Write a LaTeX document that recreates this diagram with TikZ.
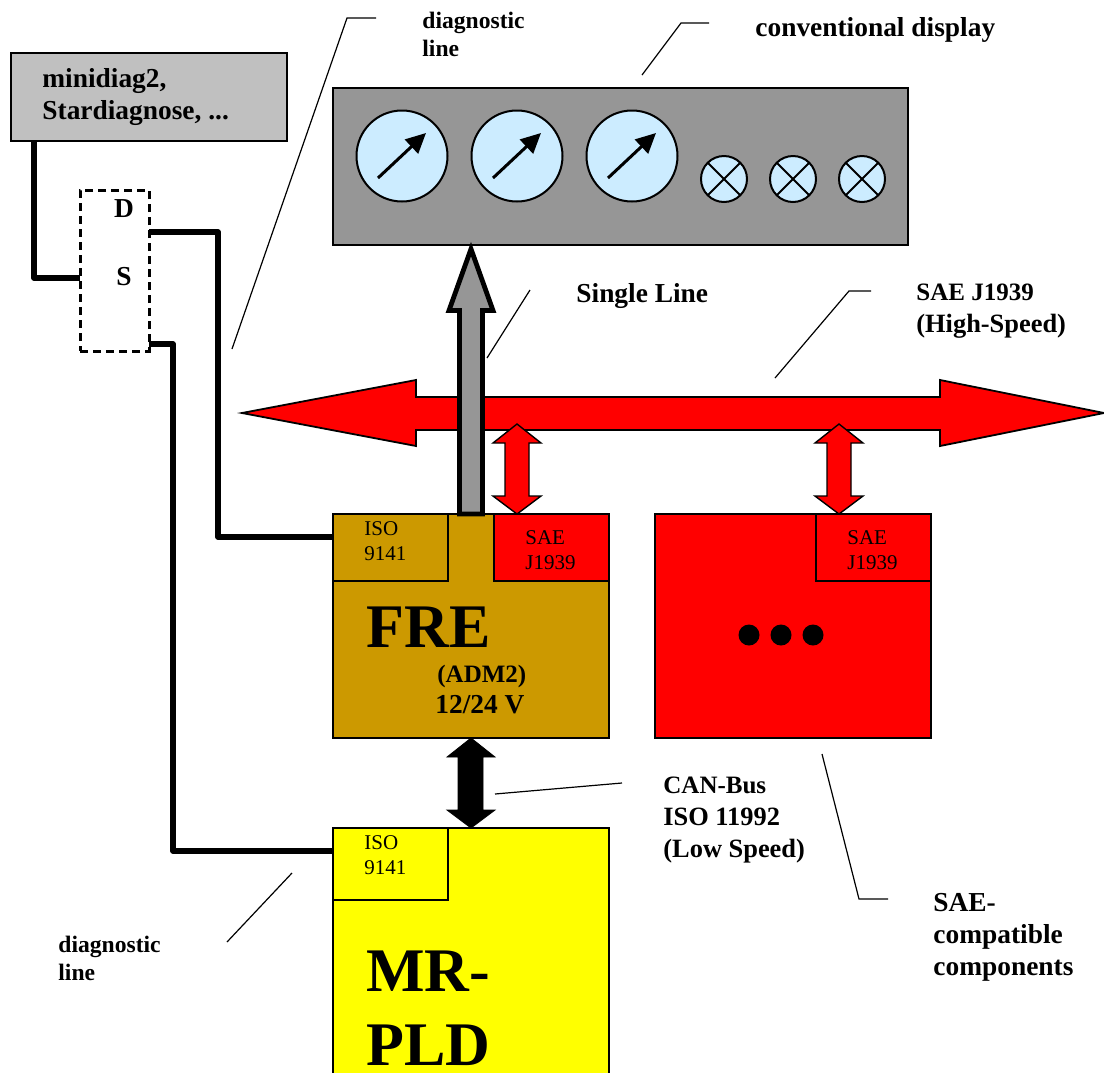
\documentclass[tikz,border=0pt]{standalone}
\usepackage{fontspec}
\setmainfont{Liberation Serif}
\usetikzlibrary{arrows.meta}
\definecolor{panelgray}{HTML}{969696}
\definecolor{toolgray}{HTML}{C0C0C0}
\definecolor{dialblue}{HTML}{CCECFF}
\definecolor{freblock}{HTML}{CC9900}
\definecolor{pldyellow}{HTML}{FFFF00}
\definecolor{busred}{HTML}{FF0000}
\newcommand{\tightfont}{\fontsize{12.5}{16}\selectfont}
\begin{document}
\begin{tikzpicture}[
  x=0.5pt, y=-0.5pt,
  box/.style={draw=black, line width=0.65pt, anchor=north west, inner sep=0pt, outer sep=0pt},
  wire/.style={line width=2.8pt, line join=round, draw=black},
  leader/.style={line width=0.6pt, draw=black},
  gauge/.style={circle, draw=black, line width=1pt, fill=dialblue, minimum size=45.5pt, inner sep=0pt, outer sep=0pt},
  lamp/.style={circle, draw=black, line width=1pt, fill=dialblue, minimum size=23pt, inner sep=0pt, outer sep=0pt},
  needle/.style={line width=1.5pt, -{Triangle[length=10pt, width=9.5pt]}},
  redarrow/.style={draw=black, line width=0.7pt, fill=busred},
  txt/.style={anchor=north west, inner sep=0pt, align=left, font=\bfseries\fontsize{13.7}{16}\selectfont},
  txtc/.style={anchor=north west, inner sep=0pt, align=left, font=\bfseries\fontsize{13.2}{16}\selectfont},
  txts/.style={anchor=north west, inner sep=0pt, align=left, font=\bfseries\fontsize{11.8}{14}\selectfont},
  txtn/.style={anchor=north west, inner sep=0pt, align=left, font=\fontsize{10.5}{12.5}\selectfont},
  txtb/.style={anchor=base west, inner sep=0pt, font=\bfseries\fontsize{31}{37}\selectfont}
]
  \useasboundingbox (0,0) rectangle (1104,1072);

  % Diagnosetester und Schalter
  \node[box, fill=toolgray, minimum width=138pt, minimum height=44pt] (tool) at (11,53) {};
  \node[txt] (tooltxt) at (42,68) {minidiag2,\\Stardiagnose, ...};
  \node[box, dashed, line width=1.5pt, dash pattern=on 4pt off 2.5pt, minimum width=34.5pt, minimum height=80.5pt] (switch) at (80,190) {};
  \node[txt, anchor=center] (swd) at (124,209) {D};
  \node[txt, anchor=center] (sws) at (124,277) {S};

  % Anzeige
  \node[box, fill=panelgray, minimum width=287.5pt, minimum height=78.5pt] (panel) at (333,88) {};
  \foreach \x/\n in {402/a, 517/b, 632/c} {
    \node[gauge] (g\n) at (\x,156) {};
    \draw[needle] (\x-24,178) -- (\x+24,133);
  }
  \foreach \x/\n in {724/a, 793/b, 862/c} {
    \node[lamp] (l\n) at (\x,179) {};
    \draw[line width=0.9pt] (l\n.45) -- (l\n.225);
    \draw[line width=0.9pt] (l\n.135) -- (l\n.315);
  }

  % Steuergeraete
  \node[box, fill=freblock, minimum width=138pt, minimum height=112pt] (fre) at (333,514) {};
  \node[box, fill=freblock, minimum width=57.5pt, minimum height=33.5pt] (freiso) at (333,514) {};
  \node[box, fill=busred, minimum width=57.5pt, minimum height=33.5pt] (fresae) at (494,514) {};
  \node[box, fill=busred, minimum width=138pt, minimum height=112pt] (comp) at (655,514) {};
  \node[box, fill=busred, minimum width=57.5pt, minimum height=33.5pt] (compsae) at (816,514) {};
  \node[box, fill=pldyellow, minimum width=138pt, minimum height=130pt] (pld) at (333,828) {};
  \node[box, fill=pldyellow, minimum width=57.5pt, minimum height=36pt] (pldiso) at (333,828) {};

  \foreach \x/\n in {749/a, 781/b, 813/c}
    \node[circle, fill=black, minimum size=10.5pt, inner sep=0pt] (dot\n) at (\x,635) {};

  % Leitungen
  \coordinate (w0) at (34,141);
  \coordinate (w1) at (80,278);
  \coordinate (w2) at (149,232);
  \coordinate (w3) at (218,232);
  \coordinate (w4) at (333,537);
  \coordinate (w5) at (149,344);
  \coordinate (w6) at (173,344);
  \coordinate (w7) at (333,851);
  \draw[wire] (w0) |- (w1);
  \draw[wire] (w2) -- (w3) |- (w4);
  \draw[wire] (w5) -- (w6) |- (w7);

  % Busse
  \draw[redarrow, line width=0.9pt] (242,413) -- (416,380) -- (416,397) -- (940,397) -- (940,380)
    -- (1104,413) -- (940,446) -- (940,430) -- (416,430) -- (416,446) -- cycle;
  \draw[draw=black, line width=2.4pt, fill=panelgray] (471,249) -- (493,310.5) -- (482.5,310.5) -- (482.5,514)
    -- (459.5,514) -- (459.5,310.5) -- (449,310.5) -- cycle;
  \foreach \x in {517,839}
    \draw[redarrow] (\x,424) -- (\x+24,443) -- (\x+12,443) -- (\x+12,496) -- (\x+24,496) -- (\x,514)
      -- (\x-24,496) -- (\x-12,496) -- (\x-12,443) -- (\x-24,443) -- cycle;
  \draw[draw=black, line width=0.4pt, fill=black] (471,738) -- (495,757) -- (483,757) -- (483,810)
    -- (495,810) -- (471,828) -- (447,810) -- (458,810) -- (458,757) -- (447,757) -- cycle;

  % Hinweislinien
  \coordinate (la0) at (232,349);
  \coordinate (la1) at (347,18);
  \coordinate (la2) at (376,18);
  \draw[leader] (la0) -- (la1) -- (la2);
  \coordinate (lb0) at (642,75);
  \coordinate (lb1) at (681,23);
  \coordinate (lb2) at (709,23);
  \draw[leader] (lb0) -- (lb1) -- (lb2);
  \coordinate (lc0) at (487,358);
  \coordinate (lc1) at (530,290);
  \draw[leader] (lc0) -- (lc1);
  \coordinate (ld0) at (775,378);
  \coordinate (ld1) at (849,291);
  \coordinate (ld2) at (871,291);
  \draw[leader] (ld0) -- (ld1) -- (ld2);
  \coordinate (le0) at (495,794);
  \coordinate (le1) at (622,783);
  \draw[leader] (le0) -- (le1);
  \coordinate (lf0) at (822,754);
  \coordinate (lf1) at (859,899);
  \coordinate (lf2) at (888,899);
  \draw[leader] (lf0) -- (lf1) -- (lf2);
  \coordinate (lg0) at (227,942);
  \coordinate (lg1) at (292,873);
  \draw[leader] (lg0) -- (lg1);

  % Beschriftungen
  \node[txts] (diagtop) at (422,12) {diagnostic\\line};
  \node[txts] (diagbot) at (58,936) {diagnostic\\line};
  \node[txt] (conv) at (755,17) {conventional display};
  \node[txt] (single) at (576,283) {Single Line};
  \node[txtc] (j1939) at (916,284) {{\tightfont SAE J1939}\\(High-Speed)};
  \node[txtc] (canbus) at (663,777) {{\tightfont CAN-Bus}\\ISO 11992\\(Low Speed)};
  \node[txt] (saecomp) at (933,893) {SAE-\\compatible\\components};
  \node[txtn] (freisotxt) at (364,521) {ISO\\9141};
  \node[txtn] (fresaetxt) at (525,530) {SAE\\J1939};
  \node[txtn] (compsaetxt) at (847,530) {SAE\\J1939};
  \node[txtn] (pldisotxt) at (364,835) {ISO\\9141};
  \node[txtb] (fretxt) at (366,647) {FRE};
  \node[txt, font=\bfseries\tightfont] (adm) at (437,665) {(ADM2)};
  \node[txt] (volt) at (435,695) {12/24 V};
  \node[txtb] (mrtxt) at (366,991) {MR-};
  \node[txtb] (pldtxt) at (366,1065) {PLD};
\end{tikzpicture}
\end{document}
